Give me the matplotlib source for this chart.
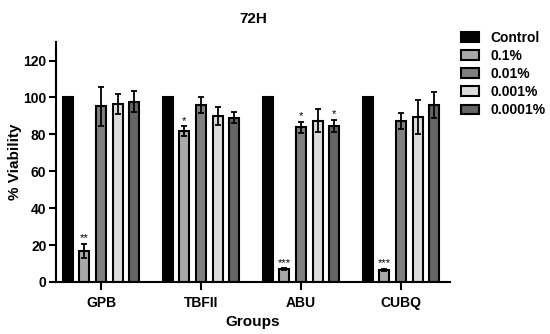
import matplotlib
matplotlib.use("Agg")
import matplotlib.pyplot as plt
import numpy as np

plt.rcParams["font.family"] = ["Liberation Sans", "DejaVu Sans"]
plt.rcParams["font.weight"] = "bold"

groups = ["GPB", "TBFII", "ABU", "CUBQ"]
series = ["Control", "0.1%", "0.01%", "0.001%", "0.0001%"]
colors = ["#000000", "#a8a8a8", "#808080", "#dcdcdc", "#656565"]

# values per series (rows) x group (cols)
means = [
    [100, 100, 100, 100],
    [16.8, 81.6, 6.9, 6.5],
    [95.2, 95.9, 83.8, 87.2],
    [96.5, 89.8, 87.4, 89.4],
    [97.6, 89.0, 84.5, 95.9],
]
errs = [
    [0, 0, 0, 0],
    [4.0, 2.7, 0.5, 0.5],
    [10.5, 4.2, 2.9, 4.5],
    [5.3, 4.9, 6.2, 9.4],
    [5.7, 2.9, 3.3, 6.9],
]
stars = [
    ["", "", "", ""],
    ["**", "*", "***", "***"],
    ["", "", "*", ""],
    ["", "", "", ""],
    ["", "", "*", ""],
]

fig = plt.figure(figsize=(5.5, 3.34), dpi=100)
ax = fig.add_axes([0.102, 0.156, 0.716, 0.718])

x = np.arange(len(groups))
slot = 1 / 6
width = slot * 0.6
for i, name in enumerate(series):
    pos = x + (i - 2) * slot
    ax.bar(pos, means[i], width=width, color=colors[i], edgecolor="black",
           linewidth=1.5, label=name, zorder=2)
    if i > 0:
        ax.errorbar(pos, means[i], yerr=errs[i], fmt="none", ecolor="black",
                    elinewidth=1.3, capsize=2.5, capthick=1.3, zorder=3)
    for j, s in enumerate(stars[i]):
        if s:
            ax.text(pos[j], means[i][j] + errs[i][j] + 0.3, s, ha="center",
                    va="bottom", fontsize=8, fontweight="normal")

ax.set_xlim(-0.45, 3.49)
ax.set_ylim(0, 130)
ax.set_yticks([0, 20, 40, 60, 80, 100, 120])
ax.set_xticks(x)
ax.set_xticklabels(groups, fontsize=10, fontweight="bold")
for lab in ax.get_yticklabels():
    lab.set_fontsize(10)
    lab.set_fontweight("bold")
ax.tick_params(direction="out", width=1.5, length=5, pad=2)
ax.tick_params(axis="x", length=6, pad=4)
for sp in ["top", "right"]:
    ax.spines[sp].set_visible(False)
for sp in ["left", "bottom"]:
    ax.spines[sp].set_linewidth(1.5)

ax.set_ylabel("% Viability", fontsize=11, fontweight="bold", labelpad=1)
ax.set_xlabel("Groups", fontsize=11, fontweight="bold", labelpad=4)
ax.set_title("72H", fontsize=11, fontweight="bold", pad=14)

leg = fig.legend(loc="upper left", bbox_to_anchor=(0.828, 0.925), frameon=False,
                 fontsize=10, handlelength=1.3, handleheight=0.7,
                 labelspacing=0.3, handletextpad=0.8, borderaxespad=0)
for t in leg.get_texts():
    t.set_fontweight("bold")

fig.savefig("out.png", dpi=100)
